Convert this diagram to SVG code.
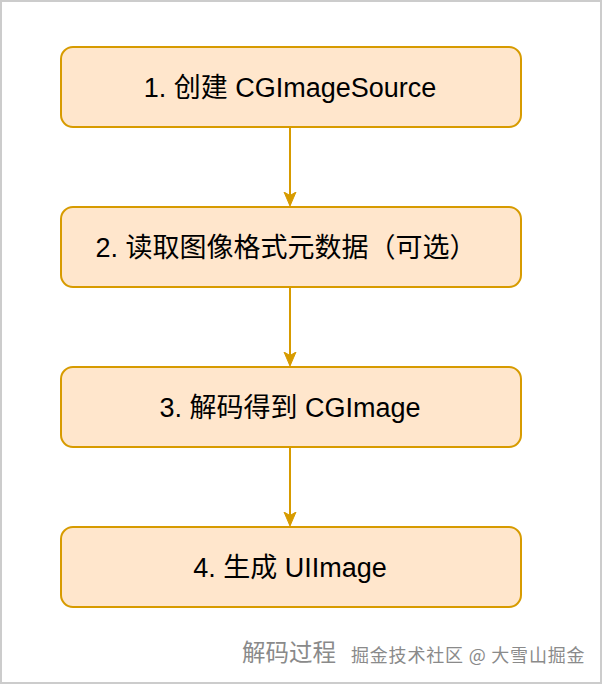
<svg xmlns="http://www.w3.org/2000/svg" width="602" height="684" viewBox="0 0 602 684">
  <defs>
    <style>
      .box { fill: #ffe6cc; stroke: #d79b00; stroke-width: 2; }
      .label { font-family: "Liberation Sans", "Noto Sans CJK SC", sans-serif; font-size: 27px; fill: #000; text-anchor: middle; }
      .conn { stroke: #d79b00; stroke-width: 2; fill: none; }
      .wm { font-family: "Noto Sans CJK SC", "Liberation Sans", sans-serif; fill: #8a8a8a; }
    </style>
    <marker id="arrow" markerWidth="14" markerHeight="14" refX="13" refY="7" orient="auto" markerUnits="userSpaceOnUse" viewBox="0 0 14 14">
      <path d="M0,1 L14,7 L0,13 L3.5,7 Z" fill="#d79b00" stroke="#d79b00" stroke-width="1"/>
    </marker>
  </defs>
  <rect x="0" y="0" width="602" height="684" fill="#ffffff"/>
  <rect x="1" y="1" width="600" height="682" fill="none" stroke="#cccccc" stroke-width="2"/>

  <g id="connectors">
    <path class="conn" d="M290,127 L290,205" marker-end="url(#arrow)"/>
    <path class="conn" d="M290,287 L290,365" marker-end="url(#arrow)"/>
    <path class="conn" d="M290,447 L290,525" marker-end="url(#arrow)"/>
  </g>

  <g id="node1">
    <rect class="box" x="61" y="47" width="460" height="80" rx="12" ry="12"/>
    <text class="label" x="290" y="96.5">1. 创建 CGImageSource</text>
  </g>
  <g id="node2">
    <rect class="box" x="61" y="207" width="460" height="80" rx="12" ry="12"/>
    <text class="label" x="286" y="256.5">2. 读取图像格式元数据（可选）</text>
  </g>
  <g id="node3">
    <rect class="box" x="61" y="367" width="460" height="80" rx="12" ry="12"/>
    <text class="label" x="290" y="416.5">3. 解码得到 CGImage</text>
  </g>
  <g id="node4">
    <rect class="box" x="61" y="527" width="460" height="80" rx="12" ry="12"/>
    <text class="label" x="290" y="576.5">4. 生成 UIImage</text>
  </g>

  <g id="watermark">
    <text class="wm" x="242" y="661" font-size="23.5">解码过程</text>
    <text class="wm" x="351" y="662" font-size="18" letter-spacing="0.8">掘金技术社区 @ 大雪山掘金</text>
  </g>
</svg>
